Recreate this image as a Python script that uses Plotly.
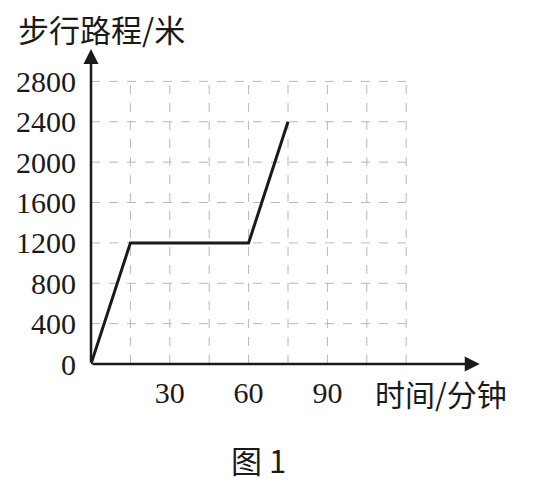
import plotly.graph_objects as go

# walking data: time in minutes, distance in metres
minutes = [0, 15, 60, 75]
distance = [0, 1200, 1200, 2400]

grid_x = [15, 30, 45, 60, 75, 90, 105, 120]
grid_y = [400, 800, 1200, 1600, 2000, 2400, 2800]
x_ticks = [30, 60, 90]
y_ticks = [0, 400, 800, 1200, 1600, 2000, 2400, 2800]

serif = "Liberation Serif, Times New Roman, serif"
cjk = "Noto Sans CJK SC"

fig = go.Figure()

shapes = []
for gx in grid_x:
    shapes.append(dict(type="line", xref="x", yref="y", x0=gx, x1=gx, y0=0, y1=grid_y[-1],
                       line=dict(color="#b8b8b8", width=1, dash="dash"), layer="below"))
for gy in grid_y:
    shapes.append(dict(type="line", xref="x", yref="y", x0=0, x1=grid_x[-1], y0=gy, y1=gy,
                       line=dict(color="#b8b8b8", width=1, dash="dash"), layer="below"))

fig.add_trace(go.Scatter(x=minutes, y=distance, mode="lines",
                         line=dict(color="#1a1a1a", width=3), showlegend=False))

# axes with arrow heads
fig.add_annotation(x=148, y=0, ax=0, ay=0, xref="x", yref="y", axref="x", ayref="y",
                   showarrow=True, arrowhead=2, arrowsize=1.2, arrowwidth=2.5, arrowcolor="#1a1a1a", text="")
fig.add_annotation(x=0, y=3120, ax=0, ay=0, xref="x", yref="y", axref="x", ayref="y",
                   showarrow=True, arrowhead=2, arrowsize=1.2, arrowwidth=2.5, arrowcolor="#1a1a1a", text="")

fig.add_annotation(text="步行路程/米", xref="paper", yref="paper", x=-0.19, y=1.04,
                   xanchor="left", yanchor="middle", showarrow=False,
                   font=dict(family=cjk, size=31, color="#1a1a1a"))
fig.add_annotation(text="时间/分钟", xref="paper", yref="paper", x=1.06, y=-0.09,
                   xanchor="right", yanchor="middle", showarrow=False,
                   font=dict(family=cjk, size=30, color="#1a1a1a"))
fig.add_annotation(text="图 1", xref="paper", yref="paper", x=0.425, y=-0.297,
                   xanchor="center", yanchor="middle", showarrow=False,
                   font=dict(family=cjk, size=31, color="#1a1a1a"))

# page body adds an 8px offset, so the figure is slightly smaller than the window
fig.update_layout(
    width=529, height=480,
    margin=dict(l=83, r=52, t=33, b=124),
    paper_bgcolor="white", plot_bgcolor="white",
    shapes=shapes,
    xaxis=dict(range=[0, 150], showgrid=False, zeroline=False, showline=False, automargin=False,
               tickvals=x_ticks, ticks="", ticklabelstandoff=8,
               tickfont=dict(family=serif, size=30, color="#1a1a1a"), fixedrange=True),
    yaxis=dict(range=[0, 3200], showgrid=False, zeroline=False, showline=False, automargin=False,
               tickvals=y_ticks, ticks="", ticklabelstandoff=14,
               tickfont=dict(family=serif, size=30, color="#1a1a1a"), fixedrange=True),
)

fig.write_html("out.html")
